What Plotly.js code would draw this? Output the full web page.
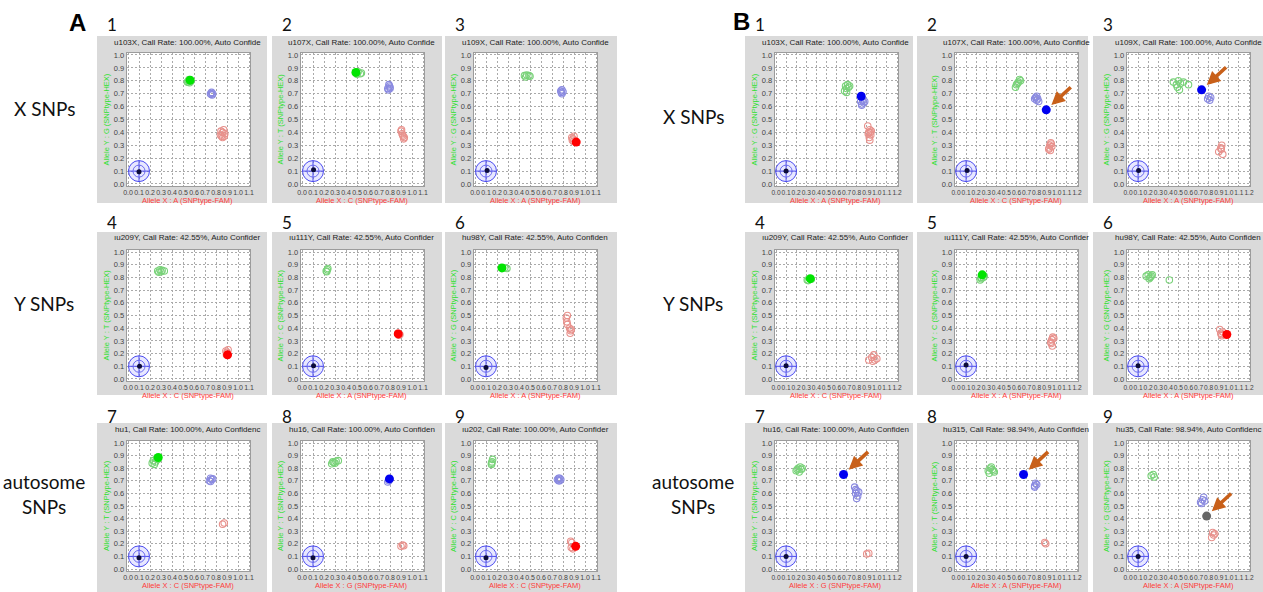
<!DOCTYPE html>
<html><head><meta charset="utf-8">
<script src="https://cdn.plot.ly/plotly-3.0.1.min.js"></script>
<style>html,body{margin:0;padding:0;background:#fff}#chart{width:1263px;height:592px}</style>
</head><body><div id="chart"></div>
<script>
// ---------- DATA ----------
const panelNumbers = ['1','2','3','4','5','6','7','8','9'];
const rowLabels = ['X SNPs', 'Y SNPs', 'autosome<br>SNPs'];
const panelTitles = [
  'u103X, Call Rate: 100.00%, Auto Confide','u107X, Call Rate: 100.00%, Auto Confide','u109X, Call Rate: 100.00%, Auto Confide',
  'ıu209Y, Call Rate: 42.55%, Auto Confider','ıu111Y, Call Rate: 42.55%, Auto Confider','hu98Y, Call Rate: 42.55%, Auto Confiden',
  'hu1, Call Rate: 100.00%, Auto Confidenc','hu16, Call Rate: 100.00%, Auto Confiden','ıu202, Call Rate: 100.00%, Auto Confider',
  'u103X, Call Rate: 100.00%, Auto Confide','u107X, Call Rate: 100.00%, Auto Confide','u109X, Call Rate: 100.00%, Auto Confide',
  'ıu209Y, Call Rate: 42.55%, Auto Confider','ıu111Y, Call Rate: 42.55%, Auto Confider','hu98Y, Call Rate: 42.55%, Auto Confiden',
  'hu16, Call Rate: 100.00%, Auto Confiden','hu315, Call Rate: 98.94%, Auto Confiden','hu35, Call Rate: 98.94%, Auto Confidenc'
];
const xAllele = ['A','C','A','C','A','A','C','G','C', 'A','C','A','C','A','A','G','A','A'];
const yAllele = ['G','T','G','T','C','G','T','T','C', 'G','T','G','T','C','G','T','T','G'];

const greenX = [
  [0.54,0.55,0.56,0.57,0.555,0.545],[0.49,0.51,0.53,0.54,0.50],[0.45,0.47,0.49,0.50,0.46],
  [0.27,0.29,0.31,0.33,0.30,0.28],[0.22,0.23,0.235,0.225],[0.27,0.29],
  [0.22,0.23,0.25,0.27,0.26,0.24],[0.27,0.29,0.31,0.33,0.30,0.28],[0.15,0.155,0.16,0.15],
  [0.68,0.70,0.71,0.72,0.73,0.70,0.69],[0.59,0.60,0.62,0.63,0.61,0.64],[0.45,0.48,0.50,0.52,0.55,0.49,0.51,0.60],
  [0.31,0.32,0.35],[0.24,0.25,0.27,0.28,0.25],[0.18,0.20,0.22,0.24,0.21,0.23,0.41],
  [0.20,0.22,0.24,0.26,0.23,0.25,0.21],[0.32,0.34,0.36,0.38,0.35,0.37,0.33],[0.23,0.25,0.26]
];
const greenY = [
  [0.79,0.80,0.785,0.795,0.81,0.79],[0.86,0.87,0.855,0.86,0.85],[0.84,0.845,0.84,0.835,0.83],
  [0.85,0.86,0.855,0.85,0.845,0.84],[0.85,0.86,0.87,0.845],[0.875,0.87],
  [0.84,0.86,0.85,0.87,0.88,0.83],[0.835,0.845,0.855,0.86,0.84,0.85],[0.83,0.85,0.87,0.84],
  [0.72,0.74,0.77,0.75,0.76,0.71,0.76],[0.75,0.77,0.79,0.81,0.78,0.80],[0.79,0.77,0.80,0.78,0.79,0.75,0.73,0.77],
  [0.78,0.775,0.785],[0.78,0.80,0.80,0.81,0.79],[0.81,0.82,0.80,0.82,0.79,0.81,0.78],
  [0.78,0.80,0.81,0.80,0.77,0.79,0.79],[0.78,0.80,0.79,0.77,0.81,0.78,0.76],[0.74,0.75,0.73]
];
const blueX = [
  [0.75,0.76,0.77,0.765,0.755],[0.78,0.79,0.80,0.785,0.795,0.80],[0.78,0.79,0.80,0.79,0.785],
  [],[],[],
  [0.74,0.75,0.76,0.77,0.75],[0.78,0.79],[0.75,0.76,0.77,0.78,0.77,0.76],
  [0.84,0.85,0.86,0.87,0.85,0.88],[0.78,0.79,0.80,0.81,0.82,0.80],[0.79,0.80,0.81,0.82],
  [],[],[],
  [0.78,0.80,0.79,0.81,0.80,0.79,0.82],[0.78,0.79,0.80,0.78],[0.72,0.74,0.75,0.76,0.73]
];
const blueY = [
  [0.70,0.71,0.70,0.69,0.695],[0.74,0.77,0.75,0.73,0.76,0.74],[0.72,0.73,0.715,0.70,0.71],
  [],[],[],
  [0.70,0.72,0.71,0.715,0.695],[0.69,0.70],[0.71,0.72,0.70,0.71,0.72,0.70],
  [0.64,0.62,0.65,0.63,0.61,0.64],[0.66,0.67,0.65,0.66,0.64,0.68],[0.66,0.68,0.65,0.67],
  [],[],[],
  [0.65,0.62,0.60,0.58,0.56,0.63,0.61],[0.66,0.68,0.67,0.65],[0.53,0.55,0.57,0.54,0.52]
];
const redX = [
  [0.84,0.86,0.87,0.85,0.88,0.86,0.845,0.875],[0.90,0.91,0.92,0.93,0.905,0.915,0.925],[0.88,0.89,0.90,0.885,0.895],
  [0.89,0.90,0.91,0.895],[0.87,0.88,0.89],[0.83,0.84,0.835,0.84,0.86,0.87,0.865,0.875],
  [0.86,0.875],[0.90,0.915,0.925],[0.87,0.88,0.89,0.875],
  [0.91,0.92,0.93,0.94,0.925,0.935,0.915,0.945,0.93],[0.92,0.93,0.94,0.95,0.935,0.945,0.925],[0.90,0.92,0.93,0.94,0.925],
  [0.92,0.95,0.97,0.98,0.96,1.0],[0.94,0.95,0.96,0.97,0.955,0.945],[0.91,0.92,0.93,0.94,0.925],
  [0.90,0.92],[0.88,0.89],[0.83,0.85,0.84,0.86]
];
const redY = [
  [0.38,0.40,0.42,0.37,0.39,0.36,0.41,0.37],[0.41,0.39,0.37,0.36,0.42,0.38,0.35],[0.36,0.35,0.37,0.34,0.33],
  [0.22,0.21,0.23,0.19],[0.36,0.345,0.35],[0.48,0.50,0.45,0.43,0.40,0.38,0.36,0.39],
  [0.355,0.365],[0.18,0.19,0.185],[0.22,0.21,0.16,0.17],
  [0.45,0.40,0.42,0.38,0.36,0.40,0.39,0.41,0.34],[0.27,0.30,0.32,0.29,0.26,0.31,0.28],[0.25,0.28,0.30,0.23,0.27],
  [0.15,0.17,0.19,0.15,0.14,0.16],[0.29,0.31,0.33,0.32,0.26,0.28],[0.39,0.36,0.34,0.37,0.35],
  [0.12,0.125],[0.21,0.20],[0.25,0.27,0.29,0.28]
];
// highlighted (filled) sample per panel
const callX = [0.565,0.49,0.92, 0.905,0.875,0.245, 0.275,0.795,0.915, 0.845,0.895,0.73, 0.34,0.26,0.98, 0.67,0.67,0.78];
const callY = [0.805,0.865,0.325, 0.19,0.355,0.875, 0.885,0.715,0.18, 0.68,0.575,0.73, 0.79,0.82,0.35, 0.75,0.75,0.42];
const callKind = ['green','green','red','red','red','green','green','blue','red',
                  'blue','blue','blue','green','green','red','blue','blue','gray'];
const ntcCenter = [0.1, 0.1];
const ntcDotX = [0.1,0.105,0.11, 0.105,0.105,0.1, 0.1,0.1,0.1, 0.1,0.11,0.105, 0.1,0.1,0.1, 0.1,0.1,0.1];
const ntcDotY = [0.095,0.11,0.105, 0.1,0.105,0.09, 0.09,0.09,0.09, 0.1,0.105,0.105, 0.105,0.11,0.105, 0.1,0.1,0.1];
const arrowPanels = [10, 11, 15, 16, 17];

// ---------- LAYOUT / STYLE ----------
const W = 1263, H = 592;
const fx = px => px / W, fy = py => 1 - py / H;
const colX0 = [[128, 302, 475], [776, 956, 1128]];
const rowTop = [55, 252, 443], rowBot = [184, 379, 569];
const boxes = [[[97,267],[272,442],[445,617]], [[745,913],[917,1088],[1093,1263]]];
const boxY = [[36,203],[232,395],[423,592]];
const numY = [24, 222, 416];
const fillColors = {green:'#00e400', blue:'#0000f0', red:'#ff0000', gray:'#666666'};
const FONT = 'Arial, "Liberation Sans", sans-serif';

const traces = [], layout = {
  width: W, height: H, margin: {l:0, r:0, t:0, b:0},
  paper_bgcolor: '#ffffff', plot_bgcolor: 'rgba(0,0,0,0)', showlegend: false,
  shapes: [], annotations: []
};

for (let i = 0; i < 18; i++) {
  const side = i < 9 ? 0 : 1, k = i % 9, c = k % 3, r = Math.floor(k / 3);
  const n = i + 1, xs = n === 1 ? 'x' : 'x' + n, ys = n === 1 ? 'y' : 'y' + n;
  const xmax = side === 0 ? 1.1 : 1.2;
  const ppu = 121 / xmax, x0 = colX0[side][c];
  const xr = [-0.012, xmax + 0.012];
  const h = rowBot[r] - rowTop[r];
  const yr = [-0.015, 1.015];
  const xd = [x0 + xr[0] * ppu, x0 + xr[1] * ppu];
  const yd = [rowBot[r] - yr[0] * h, rowBot[r] - yr[1] * h];
  const axCommon = {
    showgrid: true, gridcolor: '#aaaaaa', griddash: '2px,2px', gridwidth: 1,
    zeroline: false, showline: true, mirror: true, linecolor: '#9c9c9c', linewidth: 1,
    ticks: '', dtick: 0.1, tick0: 0,
    tickformat: '.1f', tickangle: 0, fixedrange: true,
    tickfont: {size: side === 0 ? 7 : 6.6, color: '#444', family: FONT}
  };
  layout['xaxis' + (n === 1 ? '' : n)] = Object.assign({}, axCommon, {
    domain: [fx(xd[0]), fx(xd[1])], range: xr, anchor: ys
  });
  layout['yaxis' + (n === 1 ? '' : n)] = Object.assign({}, axCommon, {
    domain: [fy(yd[0]), fy(yd[1])], range: yr, anchor: xs,
    tickfont: {size: 7.5, color: '#444', family: FONT}
  });
  // gray panel box + white plot area
  const b = boxes[side][c];
  layout.shapes.push({type:'rect', xref:'paper', yref:'paper', layer:'below',
    x0: fx(b[0]), x1: fx(b[1]), y0: fy(boxY[r][0]), y1: fy(boxY[r][1]),
    fillcolor:'#dadada', line:{width:0}});
  layout.shapes.push({type:'rect', xref:'paper', yref:'paper', layer:'below',
    x0: fx(xd[0]), x1: fx(xd[1]), y0: fy(yd[0]), y1: fy(yd[1]),
    fillcolor:'#ffffff', line:{width:0}});
  // title, axis titles, number
  const cx = x0 + 60;
  layout.annotations.push({xref:'paper', yref:'paper', x: fx(cx), y: fy(boxY[r][0] + 6),
    text: panelTitles[i], showarrow:false, font:{size:8, color:'#222', family:FONT}, xanchor:'center', yanchor:'middle'});
  layout.annotations.push({xref:'paper', yref:'paper', x: fx(cx), y: fy(rowBot[r] + 16),
    text: 'Allele X : ' + xAllele[i] + ' (SNPtype-FAM)', showarrow:false,
    font:{size:7.5, color:'#ff3b3b', family:FONT}, xanchor:'center', yanchor:'middle'});
  layout.annotations.push({xref:'paper', yref:'paper', x: fx(x0 - 22), y: fy((rowTop[r] + rowBot[r]) / 2),
    text: 'Allele Y : ' + yAllele[i] + ' (SNPtype-HEX)', showarrow:false, textangle:-90,
    font:{size:7.5, color:'#2ee02e', family:FONT}, xanchor:'center', yanchor:'middle'});
  layout.annotations.push({xref:'paper', yref:'paper', x: fx(b[0] + 15), y: fy(numY[r]),
    text: panelNumbers[k], showarrow:false, font:{size:17, color:'#111', family:'Lato, "Open Sans", sans-serif'},
    xanchor:'center', yanchor:'middle'});

  // NTC rings
  traces.push({x:[ntcCenter[0]], y:[ntcCenter[1]], xaxis:xs, yaxis:ys, type:'scatter', mode:'markers', hoverinfo:'skip',
    marker:{symbol:'circle', size:21, color:'rgba(110,110,255,0.16)', line:{width:0}}});
  traces.push({x:[ntcCenter[0]], y:[ntcCenter[1]], xaxis:xs, yaxis:ys, type:'scatter', mode:'markers', hoverinfo:'skip',
    marker:{symbol:'circle-cross-open', size:21, color:'#4b4bf0', line:{width:1}}});
  traces.push({x:[ntcCenter[0]], y:[ntcCenter[1]], xaxis:xs, yaxis:ys, type:'scatter', mode:'markers', hoverinfo:'skip',
    marker:{symbol:'circle-open', size:12, color:'#6a6af0', line:{width:1}}});
  // clusters
  const cl = [[greenX[i], greenY[i], '#79d279'], [blueX[i], blueY[i], '#8a8ae0'], [redX[i], redY[i], '#e8918c']];
  cl.forEach(([cxs, cys, col]) => {
    if (!cxs.length) return;
    traces.push({x:cxs, y:cys, xaxis:xs, yaxis:ys, type:'scatter', mode:'markers',
      marker:{symbol:'circle', size:6.5, color:'rgba(255,255,255,0)', line:{color:col, width:1.1}}});
  });
  // highlighted sample
  traces.push({x:[callX[i]], y:[callY[i]], xaxis:xs, yaxis:ys, type:'scatter', mode:'markers',
    marker:{symbol:'circle', size:9, color: fillColors[callKind[i]], line:{width:0}}});
  // NTC dot
  traces.push({x:[ntcDotX[i]], y:[ntcDotY[i]], xaxis:xs, yaxis:ys, type:'scatter', mode:'markers',
    marker:{symbol:'circle', size:5, color:'#0b0b3a', line:{width:0}}});

  if (arrowPanels.includes(i)) {
    layout.annotations.push({xref: xs, yref: ys, x: callX[i], y: callY[i], text:'', showarrow:true,
      axref:'pixel', ayref:'pixel', ax: 26, ay: -24, arrowhead: 2, arrowsize: 0.75, arrowwidth: 3.6,
      arrowcolor:'#c8601a', standoff: 7});
  }
}

// row labels and panel letters
const rowLabelY = [108, 303, 494];
const sideLabelX = [44, 693];
for (let s = 0; s < 2; s++) {
  for (let r = 0; r < 3; r++) {
    layout.annotations.push({xref:'paper', yref:'paper', x: fx(sideLabelX[s]), y: fy(rowLabelY[r] + (s && r === 0 ? 8 : 0)),
      text: rowLabels[r], showarrow:false, align:'center',
      font:{size:19, color:'#111', family:'Lato, "Open Sans", sans-serif'}, xanchor:'center', yanchor:'middle'});
  }
}
layout.annotations.push({xref:'paper', yref:'paper', x: fx(77), y: fy(22), text:'<b>A</b>', showarrow:false,
  font:{size:24, color:'#000', family:FONT}, xanchor:'center', yanchor:'middle'});
layout.annotations.push({xref:'paper', yref:'paper', x: fx(741), y: fy(21), text:'<b>B</b>', showarrow:false,
  font:{size:24, color:'#000', family:FONT}, xanchor:'center', yanchor:'middle'});

Plotly.newPlot('chart', traces, layout, {staticPlot: true, displayModeBar: false});
</script></body></html>
